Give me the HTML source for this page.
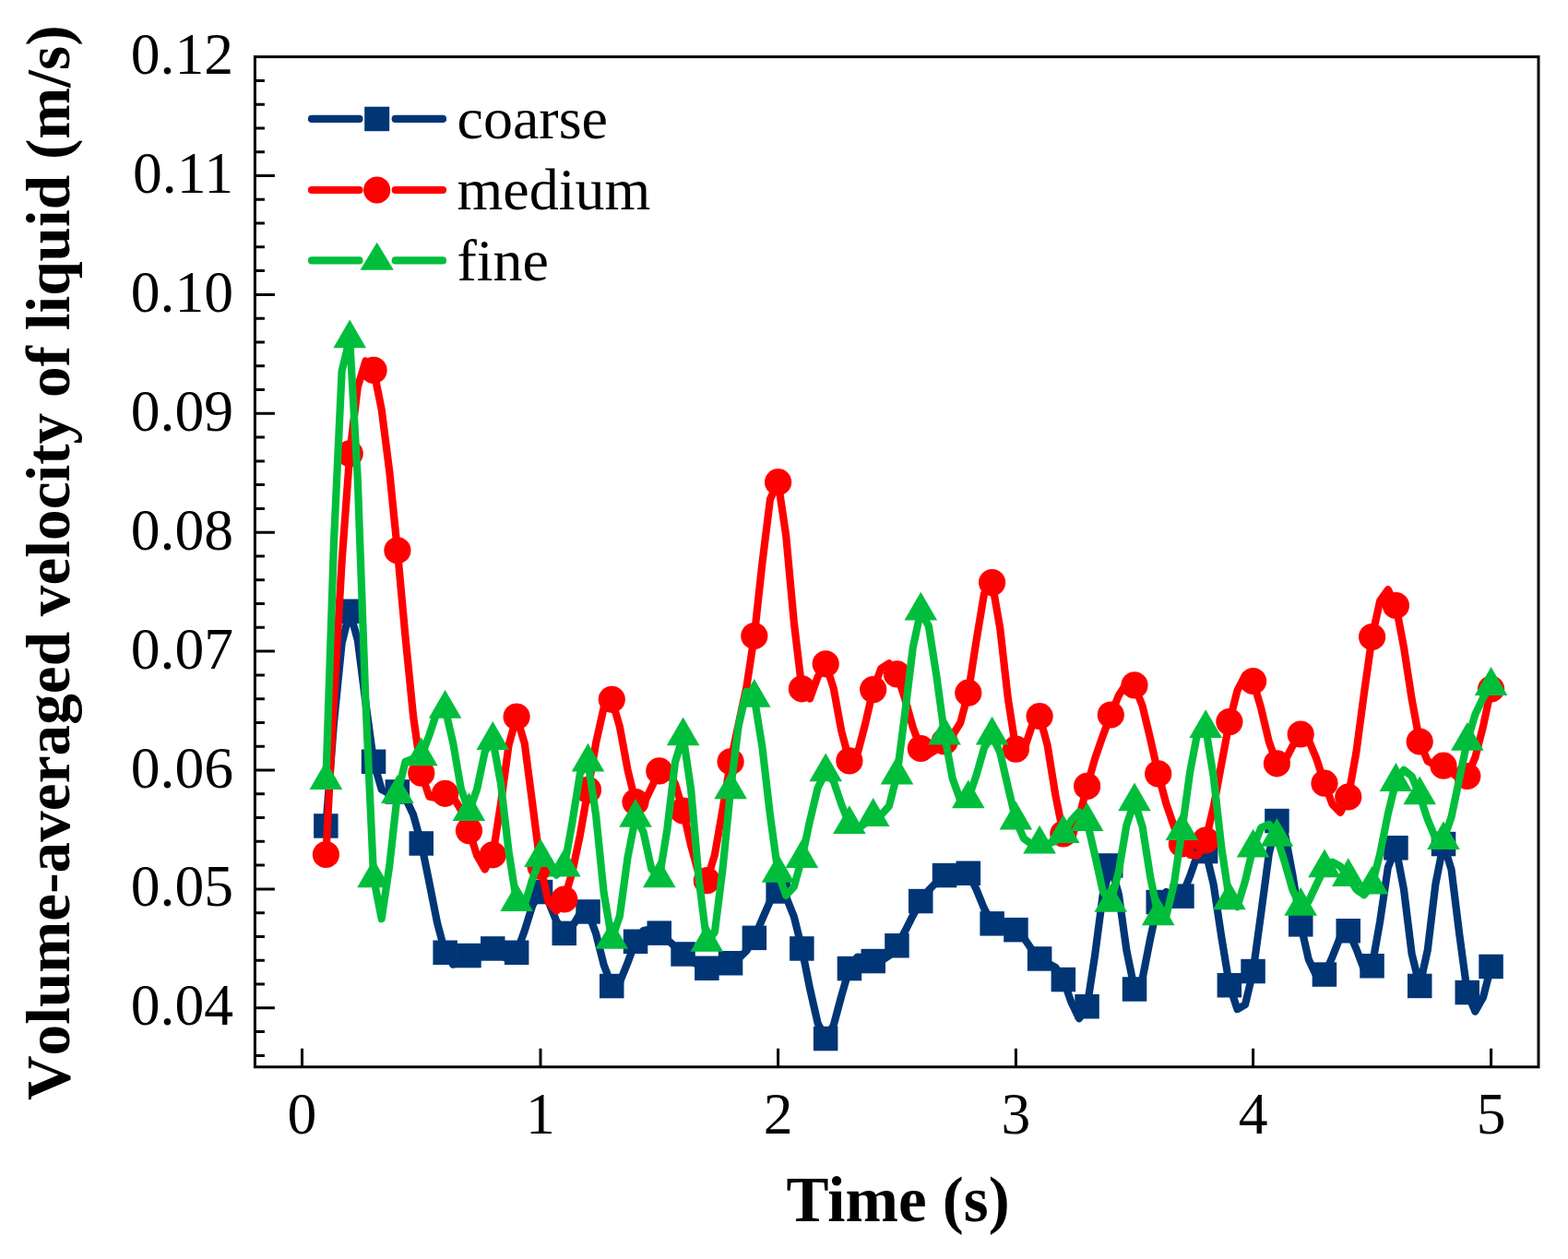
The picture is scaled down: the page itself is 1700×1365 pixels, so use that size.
<!DOCTYPE html>
<html lang="en">
<head>
<meta charset="utf-8">
<title>Volume-averaged velocity of liquid</title>
<style>
html,body{margin:0;padding:0;background:#fff;}
body{width:1700px;height:1365px;}
svg{display:block;}
text{font-family:"Liberation Serif","Times New Roman",serif;fill:#000;}
.tk{font-size:63.6px;}
.ti{font-size:69px;font-weight:bold;}
.lg{font-size:64px;}
</style>
</head>
<body>
<svg width="1700" height="1365" viewBox="0 0 1700 1365">
<rect x="0" y="0" width="1700" height="1365" fill="#fff"/>
<g fill="none" stroke="#003676" stroke-width="8.2" stroke-linejoin="round" stroke-linecap="round"><path d="M353.4 895.5L362 783.7L370.6 697.6L379.2 662.7L387.8 693.8L396.4 761.6L405.1 825.8L413.7 855.9L422.3 860.7L430.9 858.5L439.5 864.9L448.1 883.3L456.8 914.5L465.4 956.8L474 1000.3L482.6 1032.8L491.2 1045.7L499.8 1043.9L508.5 1036L517.1 1029.2L525.7 1026.2L534.3 1028.4L542.9 1035.5L551.5 1040L560.1 1032.8L568.8 1009L577.4 981.3L586 967L594.6 977.1L603.2 998.5L611.8 1011.9L620.3 1004.8L628.9 990.4L637.5 988.5L646.1 1012.1L654.7 1046.2L663.3 1069L671.9 1065L680.5 1043.7L689 1020.8L697.6 1008.9L706.2 1007.2L714.8 1011.6L723.4 1018.5L732 1026.5L740.6 1034.4L749.1 1041.4L757.7 1046.7L766.3 1049.7L774.9 1049.9L783.5 1047.9L792.1 1044.3L800.7 1039.3L809.3 1030.9L817.8 1016.9L826.4 996.6L835 976.9L843.6 966.5L852.2 972.3L860.8 993.8L869.4 1028.4L878 1071.5L886.6 1109.3L895.2 1126L903.8 1111.5L912.3 1079.6L920.9 1050L929.5 1037.6L938.1 1038.1L946.7 1042L955.3 1041.8L963.9 1036.1L972.5 1025.2L981.1 1009.8L989.7 992.7L998.3 977L1006.9 965.1L1015.5 956.3L1024.1 949L1032.7 942.6L1041.2 940.4L1049.8 946.8L1058.4 963.9L1067 985L1075.6 1001.4L1084.2 1006.9L1092.8 1006.6L1101.4 1008.1L1110 1016.8L1118.5 1029.2L1127.1 1039.4L1135.7 1044L1144.3 1048.8L1152.8 1062L1161.4 1086.5L1170 1104.2L1178.6 1091.3L1187.1 1035.7L1195.7 970.1L1204.3 938.5L1212.9 969.6L1221.4 1030.4L1230 1072.4L1238.6 1061.1L1247.1 1017.9L1255.7 978L1264.3 967.1L1272.9 972.4L1281.4 971.6L1290 950.3L1298.6 925.7L1307.2 923L1315.7 958.9L1324.3 1015.9L1332.9 1068.2L1341.5 1094.1L1350 1089.2L1358.6 1053L1367.2 990.2L1375.8 925.8L1384.4 890L1393 903.4L1401.6 949.6L1410.2 1002.4L1418.8 1040.3L1427.4 1058.5L1436 1056.6L1444.6 1037.3L1453.2 1015.5L1461.8 1009.3L1470.4 1028.6L1479 1051.3L1487.6 1047.2L1496.2 998.9L1504.8 940.6L1513.4 919.3L1522 964.3L1530.6 1033.9L1539.2 1068.9L1547.8 1030L1556.4 958.4L1565 915L1573.6 942.9L1582.2 1012.5L1590.8 1076L1599.4 1096.6L1608 1081.2L1616.6 1047.9"/></g>
<g fill="#003676"><rect x="340.1" y="882.2" width="26.5" height="26.5"/><rect x="365.9" y="649.5" width="26.5" height="26.5"/><rect x="391.8" y="812.5" width="26.5" height="26.5"/><rect x="417.6" y="845.2" width="26.5" height="26.5"/><rect x="443.5" y="901.2" width="26.5" height="26.5"/><rect x="469.4" y="1019.5" width="26.5" height="26.5"/><rect x="495.2" y="1022.8" width="26.5" height="26.5"/><rect x="521" y="1015.2" width="26.5" height="26.5"/><rect x="546.9" y="1019.5" width="26.5" height="26.5"/><rect x="572.8" y="953.8" width="26.5" height="26.5"/><rect x="598.5" y="998.6" width="26.5" height="26.5"/><rect x="624.3" y="975.2" width="26.5" height="26.5"/><rect x="650" y="1055.8" width="26.5" height="26.5"/><rect x="675.8" y="1007.5" width="26.5" height="26.5"/><rect x="701.5" y="998.4" width="26.5" height="26.5"/><rect x="727.3" y="1021.2" width="26.5" height="26.5"/><rect x="753.1" y="1036.5" width="26.5" height="26.5"/><rect x="778.8" y="1031" width="26.5" height="26.5"/><rect x="804.6" y="1003.6" width="26.5" height="26.5"/><rect x="830.4" y="953.2" width="26.5" height="26.5"/><rect x="856.1" y="1015.2" width="26.5" height="26.5"/><rect x="881.9" y="1112.8" width="26.5" height="26.5"/><rect x="907.7" y="1036.8" width="26.5" height="26.5"/><rect x="933.5" y="1028.8" width="26.5" height="26.5"/><rect x="959.2" y="1012" width="26.5" height="26.5"/><rect x="985" y="963.8" width="26.5" height="26.5"/><rect x="1010.8" y="935.8" width="26.5" height="26.5"/><rect x="1036.6" y="933.5" width="26.5" height="26.5"/><rect x="1062.4" y="988.1" width="26.5" height="26.5"/><rect x="1088.2" y="994.9" width="26.5" height="26.5"/><rect x="1113.9" y="1026.2" width="26.5" height="26.5"/><rect x="1139.6" y="1048.8" width="26.5" height="26.5"/><rect x="1165.3" y="1078" width="26.5" height="26.5"/><rect x="1191" y="925.2" width="26.5" height="26.5"/><rect x="1216.8" y="1059.2" width="26.5" height="26.5"/><rect x="1242.5" y="964.8" width="26.5" height="26.5"/><rect x="1268.2" y="958.4" width="26.5" height="26.5"/><rect x="1293.9" y="909.8" width="26.5" height="26.5"/><rect x="1319.6" y="1055" width="26.5" height="26.5"/><rect x="1345.3" y="1039.8" width="26.5" height="26.5"/><rect x="1371.2" y="876.8" width="26.5" height="26.5"/><rect x="1397" y="989.1" width="26.5" height="26.5"/><rect x="1422.7" y="1043.3" width="26.5" height="26.5"/><rect x="1448.5" y="996" width="26.5" height="26.5"/><rect x="1474.3" y="1034" width="26.5" height="26.5"/><rect x="1500.2" y="906" width="26.5" height="26.5"/><rect x="1526" y="1055.7" width="26.5" height="26.5"/><rect x="1551.8" y="901.8" width="26.5" height="26.5"/><rect x="1577.5" y="1062.8" width="26.5" height="26.5"/><rect x="1603.3" y="1034.7" width="26.5" height="26.5"/></g>
<g fill="none" stroke="#ff0000" stroke-width="8.2" stroke-linejoin="round" stroke-linecap="round"><path d="M353.4 926.5L362 759.7L370.6 609.4L379.2 491.8L387.8 419.7L396.4 391.4L405.1 401.4L413.7 443.9L422.3 511.5L430.9 596.8L439.5 690.4L448.1 776.6L456.8 838.2L465.4 863.7L474 865.1L482.6 860.3L491.2 864.1L499.8 878L508.5 900.6L517.1 927.4L525.7 942.4L534.3 926.8L542.9 871.8L551.5 808.2L560.1 777L568.8 806.2L577.4 872.4L586 939.3L594.6 977.8L603.2 987.6L611.8 975L620.3 946.1L628.9 905.3L637.5 856.4L646.1 805.5L654.7 767.2L663.3 758.3L671.9 787.9L680.5 834.6L689 869.5L697.6 871.9L706.2 853.9L714.8 835.9L723.4 834.3L732 849.7L740.6 879L749.1 916.6L757.7 947.6L766.3 954.7L774.9 926.9L783.5 877.5L792.1 825.8L800.7 785.3L809.3 745.4L817.8 689.5L826.4 610.7L835 541.2L843.6 522.7L852.2 580.6L860.8 674.4L869.4 746.8L878 757.5L886.6 733.9L895.2 719.8L903.8 746.5L912.3 792.8L920.9 824.9L929.5 818L938.1 784.9L946.7 747.6L955.3 724.6L963.9 719.2L972.5 730.9L981.1 757.4L989.7 788.4L998.3 811.5L1006.9 817.9L1015.5 812.5L1024.1 804L1032.7 797.3L1041.2 783.8L1049.8 751.2L1058.4 695.3L1067 643.6L1075.6 631.6L1084.2 680.7L1092.8 756.9L1101.4 812.2L1110 813.6L1118.5 787.9L1127.1 776.5L1135.7 808.3L1144.3 862L1152.8 904L1161.4 909L1170 885.9L1178.6 852.4L1187.1 822.7L1195.7 797.7L1204.3 775L1212.9 754L1221.4 740.7L1230 742.9L1238.6 765.4L1247.1 800.8L1255.7 838.9L1264.3 871.1L1272.9 896.3L1281.4 915L1290 926.9L1298.6 927.4L1307.2 911L1315.7 875L1324.3 828.2L1332.9 782.6L1341.5 748.7L1350 732.4L1358.6 738.5L1367.2 767.7L1375.8 804.1L1384.4 827.8L1393 825.1L1401.6 808.3L1410.2 796L1418.8 802.2L1427.4 822.9L1436 849.2L1444.6 872.1L1453.2 880.8L1461.8 864L1470.4 815.7L1479 751.1L1487.6 690.5L1496.2 651.4L1504.8 639.3L1513.4 656.5L1522 701.7L1530.6 757.8L1539.2 804L1547.8 825.3L1556.4 829.4L1565 830.2L1573.6 837.2L1582.2 844.4L1590.8 841.5L1599.4 821.2L1608 787.5L1616.6 747"/></g>
<g fill="#ff0000"><circle cx="353.4" cy="926.5" r="14.6"/><circle cx="379.2" cy="491.8" r="14.6"/><circle cx="405.1" cy="401.4" r="14.6"/><circle cx="430.9" cy="596.8" r="14.6"/><circle cx="456.8" cy="838.2" r="14.6"/><circle cx="482.6" cy="860.3" r="14.6"/><circle cx="508.5" cy="900.6" r="14.6"/><circle cx="534.3" cy="926.8" r="14.6"/><circle cx="560.1" cy="777" r="14.6"/><circle cx="586" cy="939.3" r="14.6"/><circle cx="611.8" cy="975" r="14.6"/><circle cx="637.5" cy="856.4" r="14.6"/><circle cx="663.3" cy="758.3" r="14.6"/><circle cx="689" cy="869.5" r="14.6"/><circle cx="714.8" cy="835.9" r="14.6"/><circle cx="740.6" cy="879" r="14.6"/><circle cx="766.3" cy="954.7" r="14.6"/><circle cx="792.1" cy="825.8" r="14.6"/><circle cx="817.8" cy="689.5" r="14.6"/><circle cx="843.6" cy="522.7" r="14.6"/><circle cx="869.4" cy="746.8" r="14.6"/><circle cx="895.2" cy="719.8" r="14.6"/><circle cx="920.9" cy="824.9" r="14.6"/><circle cx="946.7" cy="747.6" r="14.6"/><circle cx="972.5" cy="730.9" r="14.6"/><circle cx="998.3" cy="811.5" r="14.6"/><circle cx="1024.1" cy="804" r="14.6"/><circle cx="1049.8" cy="751.2" r="14.6"/><circle cx="1075.6" cy="631.6" r="14.6"/><circle cx="1101.4" cy="812.2" r="14.6"/><circle cx="1127.1" cy="776.5" r="14.6"/><circle cx="1152.8" cy="904" r="14.6"/><circle cx="1178.6" cy="852.4" r="14.6"/><circle cx="1204.3" cy="775" r="14.6"/><circle cx="1230" cy="742.9" r="14.6"/><circle cx="1255.7" cy="838.9" r="14.6"/><circle cx="1281.4" cy="915" r="14.6"/><circle cx="1307.2" cy="911" r="14.6"/><circle cx="1332.9" cy="782.6" r="14.6"/><circle cx="1358.6" cy="738.5" r="14.6"/><circle cx="1384.4" cy="827.8" r="14.6"/><circle cx="1410.2" cy="796" r="14.6"/><circle cx="1436" cy="849.2" r="14.6"/><circle cx="1461.8" cy="864" r="14.6"/><circle cx="1487.6" cy="690.5" r="14.6"/><circle cx="1513.4" cy="656.5" r="14.6"/><circle cx="1539.2" cy="804" r="14.6"/><circle cx="1565" cy="830.2" r="14.6"/><circle cx="1590.8" cy="841.5" r="14.6"/><circle cx="1616.6" cy="747" r="14.6"/></g>
<g fill="none" stroke="#00be3c" stroke-width="8.2" stroke-linejoin="round" stroke-linecap="round"><path d="M353.4 845.6L362 586.8L370.6 402.5L379.2 367L387.8 519.8L396.4 760L405.1 952L413.7 996.2L422.3 938.4L430.9 860.6L439.5 825.9L448.1 822.6L456.8 820L465.4 797.1L474 771L482.6 768.4L491.2 805.4L499.8 855.1L508.5 879.8L517.1 855.9L525.7 815L534.3 802.6L542.9 848.9L551.5 922.8L560.1 977.7L568.8 980.6L577.4 953L586 929.8L594.6 934.9L603.2 948.6L611.8 940.3L620.3 892.4L628.9 838.7L637.5 826.3L646.1 883.9L654.7 968.3L663.3 1018.5L671.9 993.1L680.5 929.8L689 886.5L697.6 902.1L706.2 941.8L714.8 952L723.4 898.8L732 826.2L740.6 798L749.1 855.7L757.7 953.1L766.3 1021.5L774.9 1010.7L783.5 942.3L792.1 856L800.7 786.7L809.3 749.9L817.8 756.5L826.4 809.9L835 884.3L843.6 946.5L852.2 970.8L860.8 961.5L869.4 930.6L878 890.2L886.6 854.3L895.2 837L903.8 847.2L912.3 872.2L920.9 893.8L929.5 898.7L938.1 892.6L946.7 885.6L955.3 883.6L963.9 874.1L972.5 840.2L981.1 773.8L989.7 702.4L998.3 662.3L1006.9 679L1015.5 733.8L1024.1 797.2L1032.7 844L1041.2 867.7L1049.8 866L1058.4 841L1067 810.8L1075.6 797.3L1084.2 815.7L1092.8 853L1101.4 889.3L1110 909.1L1118.5 915.3L1127.1 915.3L1135.7 914.8L1144.3 912.1L1152.8 903.8L1161.4 889.5L1170 880.4L1178.6 890.6L1187.1 927L1195.7 966.4L1204.3 978.5L1212.9 944.8L1221.4 894.5L1230 869L1238.6 896.2L1247.1 950.4L1255.7 992.9L1264.3 993.6L1272.9 958L1281.4 900.8L1290 838.1L1298.6 792.8L1307.2 789.7L1315.7 842.2L1324.3 918.6L1332.9 976L1341.5 983.1L1350 955.3L1358.6 919.3L1367.2 897.5L1375.8 893.8L1384.4 907.5L1393 935.4L1401.6 965.3L1410.2 982.5L1418.8 977.3L1427.4 958.7L1436 940.9L1444.6 934.7L1453.2 939.3L1461.8 950.7L1470.4 964.1L1479 970.3L1487.6 959.3L1496.2 925.7L1504.8 882.5L1513.4 847.6L1522 834.7L1530.6 841.6L1539.2 862L1547.8 888.4L1556.4 909L1565 910.8L1573.6 885.6L1582.2 844.5L1590.8 803.4L1599.4 774.6L1608 756.5L1616.6 743.6"/></g>
<g fill="#00be3c"><polygon points="353.4,825.1 371.2,855.9 335.6,855.9"/><polygon points="379.2,346.5 397,377.3 361.4,377.3"/><polygon points="405.1,931.5 422.9,962.3 387.2,962.3"/><polygon points="430.9,840.1 448.7,870.9 413.1,870.9"/><polygon points="456.8,799.5 474.6,830.3 438.9,830.3"/><polygon points="482.6,747.9 500.4,778.7 464.8,778.7"/><polygon points="508.5,859.3 526.2,890.1 490.7,890.1"/><polygon points="534.3,782.1 552.1,812.9 516.5,812.9"/><polygon points="560.1,957.2 577.9,988 542.4,988"/><polygon points="586,909.3 603.8,940.1 568.2,940.1"/><polygon points="611.8,919.8 629.6,950.6 594,950.6"/><polygon points="637.5,805.8 655.3,836.6 619.7,836.6"/><polygon points="663.3,998 681.1,1028.8 645.5,1028.8"/><polygon points="689,866 706.8,896.8 671.2,896.8"/><polygon points="714.8,931.5 732.6,962.3 697,962.3"/><polygon points="740.6,777.5 758.4,808.3 722.8,808.3"/><polygon points="766.3,1001 784.1,1031.8 748.5,1031.8"/><polygon points="792.1,835.5 809.9,866.3 774.3,866.3"/><polygon points="817.8,736 835.6,766.8 800,766.8"/><polygon points="843.6,926 861.4,956.8 825.8,956.8"/><polygon points="869.4,910.1 887.2,940.9 851.6,940.9"/><polygon points="895.2,816.5 913,847.3 877.4,847.3"/><polygon points="920.9,873.3 938.7,904.1 903.1,904.1"/><polygon points="946.7,865.1 964.5,895.9 928.9,895.9"/><polygon points="972.5,819.7 990.3,850.5 954.7,850.5"/><polygon points="998.3,641.8 1016.1,672.6 980.5,672.6"/><polygon points="1024.1,776.7 1041.9,807.5 1006.3,807.5"/><polygon points="1049.8,845.5 1067.6,876.3 1032,876.3"/><polygon points="1075.6,776.8 1093.4,807.6 1057.8,807.6"/><polygon points="1101.4,868.8 1119.2,899.6 1083.6,899.6"/><polygon points="1127.1,894.8 1144.9,925.6 1109.3,925.6"/><polygon points="1152.8,883.3 1170.6,914.1 1135,914.1"/><polygon points="1178.6,870.1 1196.4,900.9 1160.8,900.9"/><polygon points="1204.3,958 1222.1,988.8 1186.5,988.8"/><polygon points="1230,848.5 1247.8,879.3 1212.2,879.3"/><polygon points="1255.7,972.4 1273.5,1003.2 1237.9,1003.2"/><polygon points="1281.4,880.3 1299.2,911.1 1263.6,911.1"/><polygon points="1307.2,769.2 1325,800 1289.4,800"/><polygon points="1332.9,955.5 1350.7,986.3 1315.1,986.3"/><polygon points="1358.6,898.8 1376.4,929.6 1340.8,929.6"/><polygon points="1384.4,887 1402.2,917.8 1366.6,917.8"/><polygon points="1410.2,962 1428,992.8 1392.4,992.8"/><polygon points="1436,920.4 1453.8,951.2 1418.2,951.2"/><polygon points="1461.8,930.2 1479.6,961 1444,961"/><polygon points="1487.6,938.8 1505.4,969.6 1469.8,969.6"/><polygon points="1513.4,827.1 1531.2,857.9 1495.6,857.9"/><polygon points="1539.2,841.5 1557,872.3 1521.4,872.3"/><polygon points="1565,890.3 1582.8,921.1 1547.2,921.1"/><polygon points="1590.8,782.9 1608.6,813.7 1573,813.7"/><polygon points="1616.6,723.1 1634.4,753.9 1598.8,753.9"/></g>
<g stroke="#000" stroke-width="3" fill="none" stroke-linecap="butt">
<rect x="276.4" y="61.6" width="1391.6" height="1095.2"/>
<path d="M276.4 1144.4h10.5M276.4 1118.6h10.5M276.4 1092.8h21.5M276.4 1067h10.5M276.4 1041.2h10.5M276.4 1015.5h10.5M276.4 989.7h10.5M276.4 963.9h21.5M276.4 938.1h10.5M276.4 912.3h10.5M276.4 886.6h10.5M276.4 860.8h10.5M276.4 835h21.5M276.4 809.2h10.5M276.4 783.4h10.5M276.4 757.7h10.5M276.4 731.9h10.5M276.4 706.1h21.5M276.4 680.3h10.5M276.4 654.5h10.5M276.4 628.8h10.5M276.4 603h10.5M276.4 577.2h21.5M276.4 551.4h10.5M276.4 525.6h10.5M276.4 499.9h10.5M276.4 474.1h10.5M276.4 448.3h21.5M276.4 422.5h10.5M276.4 396.7h10.5M276.4 371h10.5M276.4 345.2h10.5M276.4 319.4h21.5M276.4 293.6h10.5M276.4 267.8h10.5M276.4 242.1h10.5M276.4 216.3h10.5M276.4 190.5h21.5M276.4 164.7h10.5M276.4 138.9h10.5M276.4 113.2h10.5M276.4 87.4h10.5M327.5 1156.8v-20M586 1156.8v-20M843.6 1156.8v-20M1101.4 1156.8v-20M1358.6 1156.8v-20M1616.6 1156.8v-20"/>
</g>
<g class="tk" text-anchor="end">
<text x="253" y="1111.3">0.04</text>
<text x="253" y="982.4">0.05</text>
<text x="253" y="853.5">0.06</text>
<text x="253" y="724.6">0.07</text>
<text x="253" y="595.7">0.08</text>
<text x="253" y="466.8">0.09</text>
<text x="253" y="337.9">0.10</text>
<text x="253" y="209">0.11</text>
<text x="253" y="80.1">0.12</text>
</g>
<g class="tk" text-anchor="middle">
<text x="327.5" y="1229">0</text>
<text x="586" y="1229">1</text>
<text x="843.6" y="1229">2</text>
<text x="1101.4" y="1229">3</text>
<text x="1358.6" y="1229">4</text>
<text x="1616.6" y="1229">5</text>
</g>
<text class="ti" text-anchor="middle" x="973.6" y="1324.2">Time (s)</text>
<text class="ti" style="font-size:67.25px;font-kerning:none" text-anchor="middle" transform="translate(75.2 610.2) rotate(-90)">Volume-averaged velocity of liquid (m/s)</text>
<g stroke="#003676" stroke-width="8.2" stroke-linecap="round" fill="none"><path d="M338 128.9H389.5M428.7 128.9H480"/></g><rect x="395.2" y="115.7" width="27" height="26.5" fill="#003676"/><text class="lg" x="495.5" y="150.1">coarse</text>
<g stroke="#ff0000" stroke-width="8.2" stroke-linecap="round" fill="none"><path d="M338 206H389.5M428.7 206H480"/></g><circle cx="408.7" cy="206" r="14.6" fill="#ff0000"/><text class="lg" x="495.5" y="227.2">medium</text>
<g stroke="#00be3c" stroke-width="8.2" stroke-linecap="round" fill="none"><path d="M338 282.4H389.5M428.7 282.4H480"/></g><polygon points="408.7,262.7 426.9,292.8 390.5,292.8" fill="#00be3c"/><text class="lg" x="495.5" y="303.6">fine</text>
</svg>
</body>
</html>
